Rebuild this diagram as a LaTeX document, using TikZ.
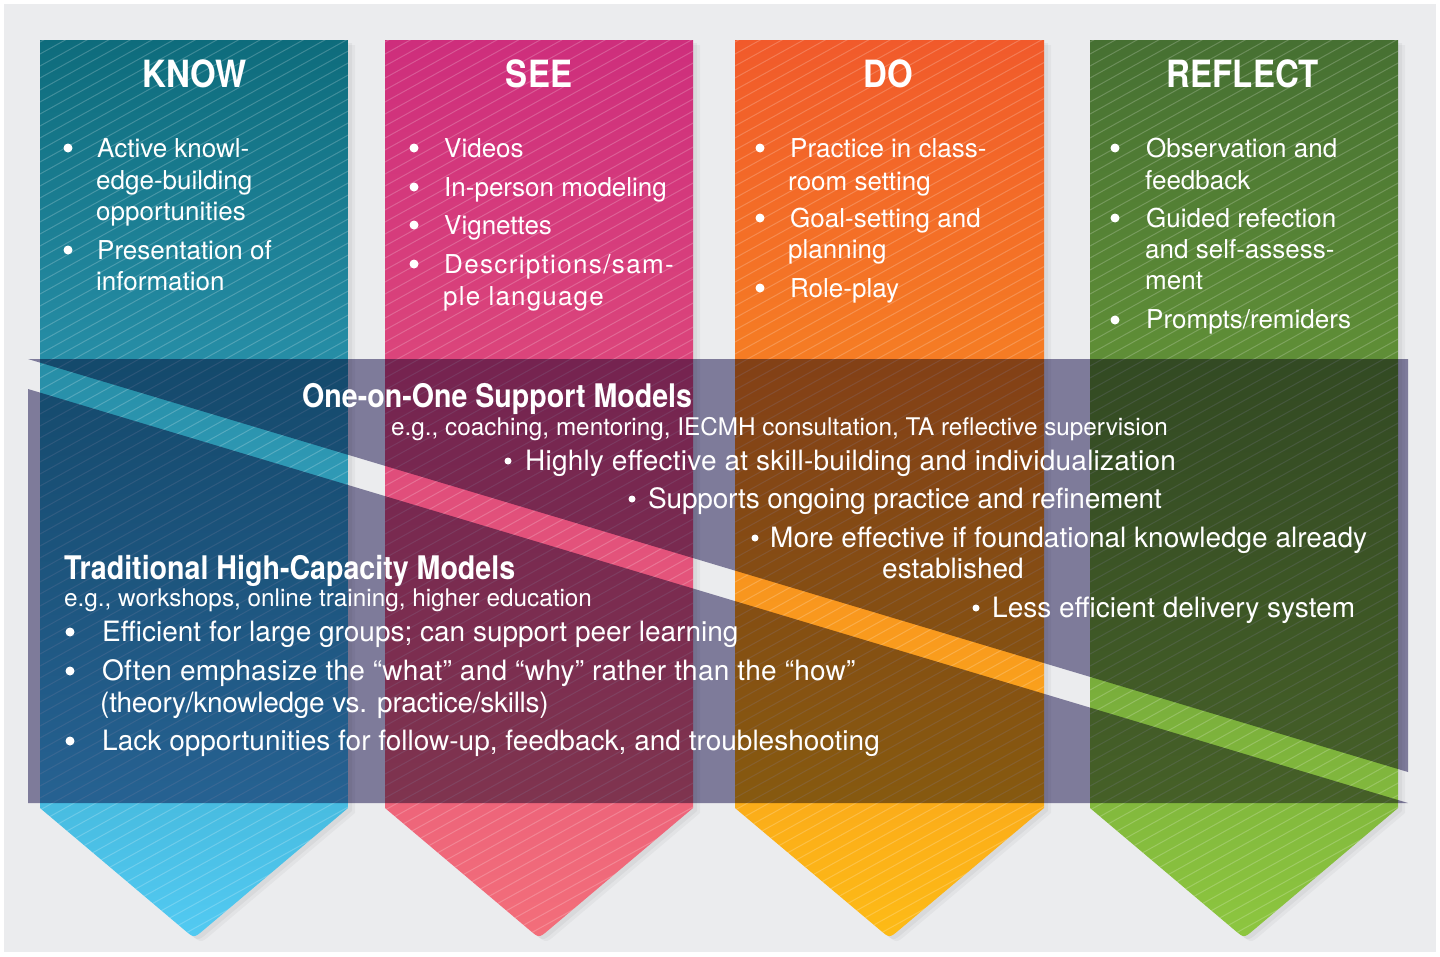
\documentclass[tikz,border=0pt]{standalone}
\usepackage{fontspec}
\setmainfont{TeX Gyre Heros}[BoldFeatures={FakeStretch=0.88}]
\usetikzlibrary{calc}
\definecolor{bg}{RGB}{235,236,238}
\definecolor{ovlc}{RGB}{137,133,166}
\definecolor{knowT}{RGB}{14,108,124}
\definecolor{knowB}{RGB}{82,202,242}
\definecolor{seeT}{RGB}{206,46,124}
\definecolor{seeB}{RGB}{243,110,122}
\definecolor{doT}{RGB}{241,90,43}
\definecolor{doB}{RGB}{253,187,22}
\definecolor{refT}{RGB}{70,112,50}
\definecolor{refB}{RGB}{141,198,63}
\tikzset{
  hatch/.style={white,opacity=0.2,line width=1pt},
  ovl/.style={fill=ovlc,blend mode=multiply},
  ttl/.style={text=white,inner sep=0pt,anchor=base,font=\fontsize{37.5}{40}\selectfont\bfseries},
  ctxt/.style={text=white,inner sep=0pt,anchor=base west,font=\fontsize{26}{32}\selectfont},
  otxt/.style={text=white,inner sep=0pt,anchor=base west,font=\fontsize{28}{32}\selectfont},
  etxt/.style={text=white,inner sep=0pt,anchor=base west,font=\fontsize{24.3}{30}\selectfont},
  htxt/.style={text=white,inner sep=0pt,anchor=base west,font=\fontsize{32.5}{36}\selectfont\bfseries},
  bul/.style={circle,fill=white,inner sep=0pt,minimum size=9pt},
  sbul/.style={circle,fill=white,inner sep=0pt,minimum size=7pt},
}
\newcommand\colpath[2]{(#1,40) -- (#2,40) -- (#2,808) -- ({(#1+#2)/2+9.2},930.3) .. controls ({(#1+#2)/2},938) .. ({(#1+#2)/2-9.2},930.3) -- (#1,808) -- cycle}
\newcommand\drawcol[4]{%
  \fill[black,opacity=0.035] [shift={(7,5)}] \colpath{#1}{#2};
  \fill[black,opacity=0.045] [shift={(4,3)}] \colpath{#1}{#2};
  \shade[top color=#3,bottom color=#4] \colpath{#1}{#2};
  \begin{scope}
    \clip \colpath{#1}{#2};
    \foreach \k in {0,...,92}{
      \draw[hatch] (#1,{30+\k*12}) -- ++(310,-172);
    }
  \end{scope}
}
\newcommand\spc[1]{\addfontfeature{LetterSpace=#1}}
\begin{document}
\begin{tikzpicture}[x=1pt,y=-1pt]
\useasboundingbox (0,0) rectangle (1440,956);
\fill[white] (0,0) rectangle (1440,956);
\fill[bg] (4,4) rectangle (1436,952);

\drawcol{40}{348}{knowT}{knowB}
\drawcol{385}{693}{seeT}{seeB}
\drawcol{735}{1044}{doT}{doB}
\drawcol{1090}{1398}{refT}{refB}

% overlay bands
\fill[ovl] (28,359) -- (1408,359) -- (1408,772) -- cycle;
\fill[ovl] (28,389) -- (1408,803) -- (28,803) -- cycle;

% titles
\node[ttl] (tknow) at (195,87) {KNOW};
\node[ttl] (tsee) at (539,87) {SEE};
\node[ttl] (tdo) at (888,87) {DO};
\node[ttl] (tref) at (1243,87) {REFLECT};

% KNOW
\node[bul] (kb1) at (68,148) {};
\node[bul] (kb2) at (68,250) {};
\node[ctxt] (k1) at (97,157) {Active knowl-};
\node[ctxt] (k2) at (96,189) {edge-building};
\node[ctxt] (k3) at (96,220) {opportunities};
\node[ctxt] (k4) at (97,259) {Presentation of};
\node[ctxt] (k5) at (96,290) {information};

% SEE
\node[bul] (sb1) at (414,148) {};
\node[bul] (sb2) at (414,187) {};
\node[bul] (sb3) at (414,225) {};
\node[bul] (sb4) at (414,264) {};
\node[ctxt] (s1) at (444,157) {Videos};
\node[ctxt] (s2) at (444,196) {In-person modeling};
\node[ctxt] (s3) at (444,234) {Vignettes};
\node[ctxt] (s4) at (444,273) {\spc{5.2}Descriptions/sam-};
\node[ctxt] (s5) at (443,305) {\spc{4.5}ple language};

% DO
\node[bul] (db1) at (760,148) {};
\node[bul] (db2) at (760,218) {};
\node[bul] (db3) at (760,288) {};
\node[ctxt] (d1) at (790,157) {Practice in class-};
\node[ctxt] (d2) at (788,190) {room setting};
\node[ctxt] (d3) at (790,227) {Goal-setting and};
\node[ctxt] (d4) at (788,258) {planning};
\node[ctxt] (d5) at (790,297) {Role-play};

% REFLECT
\node[bul] (rb1) at (1115,148) {};
\node[bul] (rb2) at (1115,218) {};
\node[bul] (rb3) at (1115,320) {};
\node[ctxt] (r1) at (1146,157) {Observation and};
\node[ctxt] (r2) at (1145,189) {feedback};
\node[ctxt] (r3) at (1146,227) {Guided refection};
\node[ctxt] (r4) at (1145,258) {and self-assess-};
\node[ctxt] (r5) at (1145,289) {ment};
\node[ctxt] (r6) at (1146,328) {Prompts/remiders};

% One-on-One
\node[htxt] (oh) at (302,407) {One-on-One Support Models};
\node[etxt] (oe) at (391,435) {e.g., coaching, mentoring, IECMH consultation, TA reflective supervision};
\node[sbul] (ob1) at (508,461) {};
\node[otxt] (o1) at (525,470) {\spc{0.8}Highly effective at skill-building and individualization};
\node[sbul] (ob2) at (632,499) {};
\node[otxt] (o2) at (648,508) {\spc{-0.7}Supports ongoing practice and refinement};
\node[sbul] (ob3) at (755,538) {};
\node[otxt] (o3) at (770,547) {More effective if foundational knowledge already};
\node[otxt] (o4) at (882,578) {established};
\node[sbul] (ob4) at (976,608) {};
\node[otxt] (o5) at (992,617) {Less efficient delivery system};

% Traditional
\node[htxt] (th) at (64,579) {Traditional High-Capacity Models};
\node[etxt] (te) at (64,606) {e.g., workshops, online training, higher education};
\node[bul] (tb1) at (70,632) {};
\node[bul] (tb2) at (70,671) {};
\node[bul] (tb3) at (70,741) {};
\node[otxt] (t1) at (102,641) {Efficient for large groups; can support peer learning};
\node[otxt] (t2) at (102,680) {\spc{0.9}Often emphasize the “what” and “why” rather than the “how”};
\node[otxt] (t3) at (100,712) {\spc{-1.0}(theory/knowledge vs. practice/skills)};
\node[otxt] (t4) at (102,750) {Lack opportunities for follow-up, feedback, and troubleshooting};
\end{tikzpicture}
\end{document}
